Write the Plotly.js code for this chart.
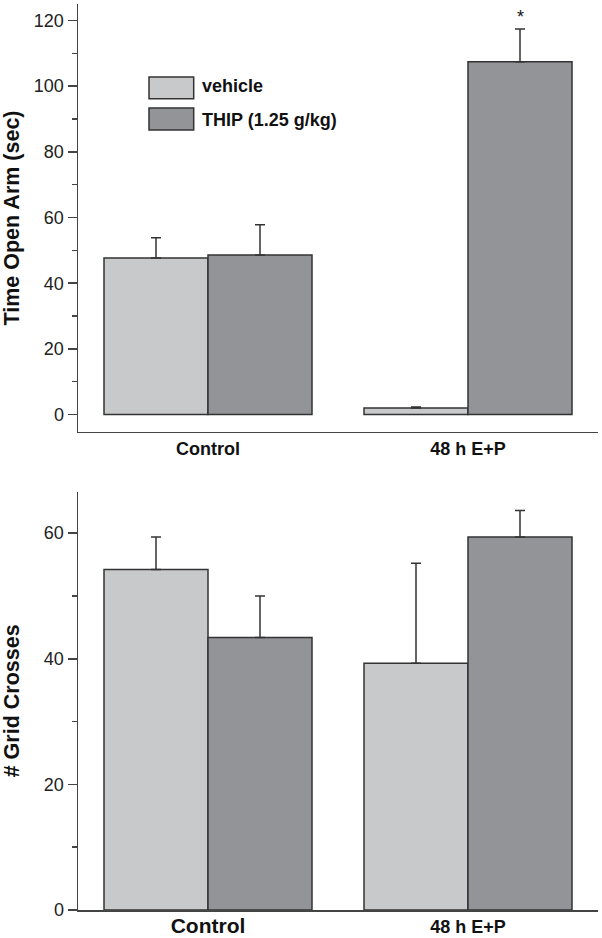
<!DOCTYPE html>
<html>
<head>
<meta charset="utf-8">
<script src="https://cdn.plot.ly/plotly-3.0.1.min.js"></script>
<style>html,body{margin:0;padding:0;background:#fff;}#chart{width:602px;height:938px;}</style>
</head>
<body>
<div id="chart"></div>
<script>
// Categories and series
const categories = ["Control", "48 h E+P"];
const seriesNames = ["vehicle", "THIP (1.25 g/kg)"];

// Top panel: Time Open Arm (sec)
const openArmVehicle = [47.7, 2.0];
const openArmVehicleErr = [6.1, 0.3];
const openArmTHIP = [48.6, 107.4];
const openArmTHIPErr = [9.2, 10.0];

// Bottom panel: # Grid Crosses
const gridVehicle = [54.2, 39.3];
const gridVehicleErr = [5.2, 15.9];
const gridTHIP = [43.4, 59.4];
const gridTHIPErr = [6.6, 4.2];

const topTicks = [0, 20, 40, 60, 80, 100, 120];
const bottomTicks = [0, 20, 40, 60];

const cVehicle = "#c8c9cb";
const cTHIP = "#939498";
const cLine = "#333333";
const font = "Liberation Sans, Arial, Helvetica, sans-serif";

function barTrace(y, err, color, name, xa, ya) {
  return {
    type: "bar", x: categories, y: y, name: name, xaxis: xa, yaxis: ya,
    marker: {color: color, line: {color: cLine, width: 1.5}},
    error_y: {type: "data", symmetric: false, array: err, arrayminus: err.map(() => 0),
              color: cLine, thickness: 1.5, width: 5},
    showlegend: false, hoverinfo: "skip"
  };
}

const data = [
  barTrace(openArmVehicle, openArmVehicleErr, cVehicle, seriesNames[0], "x", "y"),
  barTrace(openArmTHIP, openArmTHIPErr, cTHIP, seriesNames[1], "x", "y"),
  barTrace(gridVehicle, gridVehicleErr, cVehicle, seriesNames[0], "x2", "y2"),
  barTrace(gridTHIP, gridTHIPErr, cTHIP, seriesNames[1], "x2", "y2")
];

const yBase = {
  showline: true, linecolor: "#444", linewidth: 1.5, showgrid: false, zeroline: false,
  ticks: "outside", ticklen: 9, tickwidth: 1.5, tickcolor: "#444",
  tickfont: {family: font, size: 18, color: "#222"},
  minor: {ticks: "outside", ticklen: 5, tickwidth: 1.5, tickcolor: "#444", dtick: 10, tick0: 0, showgrid: false},
  automargin: false
};
const xBase = {
  type: "category", range: [-0.5, 1.5], showline: true, linecolor: "#444", linewidth: 1.5,
  showgrid: false, zeroline: false, ticks: "", automargin: false,
  tickfont: {family: font, size: 18, color: "#111"}
};

const layout = {
  width: 602, height: 938,
  margin: {l: 78, r: 4, t: 4, b: 28},
  paper_bgcolor: "#fff", plot_bgcolor: "#fff",
  barmode: "group", bargap: 0.2, bargroupgap: 0,
  font: {family: font, color: "#111"},
  xaxis: Object.assign({}, xBase, {domain: [0, 1], anchor: "y",
    tickvals: categories, ticktext: categories.map(c => "<b>" + c + "</b>")}),
  yaxis: Object.assign({}, yBase, {domain: [0.5276, 1], anchor: "x", range: [-5.3, 125],
    tickvals: topTicks,
    title: {text: "<b>Time Open Arm (sec)</b>", font: {family: font, size: 21.5, color: "#111"}, standoff: 8}}),
  xaxis2: Object.assign({}, xBase, {domain: [0, 1], anchor: "y2",
    tickvals: categories,
    ticktext: ["<b><span style='font-size:21px'>" + categories[0] + "</span></b>",
               "<b>" + categories[1] + "</b>"]}),
  yaxis2: Object.assign({}, yBase, {domain: [0, 0.4617], anchor: "x2", range: [0, 66.6],
    tickvals: bottomTicks,
    title: {text: "<b># Grid Crosses</b>", font: {family: font, size: 21.5, color: "#111"}, standoff: 18}}),
  shapes: [
    {type: "rect", xref: "paper", yref: "paper", x0: 71/520, x1: 115.7/520,
     y0: (910 - 98.7) / 906, y1: (910 - 77) / 906, fillcolor: cVehicle, line: {color: cLine, width: 1.5}},
    {type: "rect", xref: "paper", yref: "paper", x0: 71/520, x1: 115.7/520,
     y0: (910 - 130) / 906, y1: (910 - 108) / 906, fillcolor: cTHIP, line: {color: cLine, width: 1.5}}
  ],
  annotations: [
    {xref: "paper", yref: "paper", x: 122/520, y: (910 - 86.5) / 906, xanchor: "left", yanchor: "middle",
     text: "<b>" + seriesNames[0] + "</b>", showarrow: false, font: {family: font, size: 18, color: "#111"}},
    {xref: "paper", yref: "paper", x: 122/520, y: (910 - 119.5) / 906, xanchor: "left", yanchor: "middle",
     text: "<b>" + seriesNames[1] + "</b>", showarrow: false, font: {family: font, size: 18, color: "#111"}},
    {xref: "x", yref: "y", x: 1.2, y: openArmTHIP[1] + openArmTHIPErr[1], yanchor: "bottom", yshift: 0,
     text: "*", showarrow: false, font: {family: font, size: 18, color: "#111"}}
  ]
};

Plotly.newPlot("chart", data, layout, {staticPlot: true, displayModeBar: false});
</script>
</body>
</html>
